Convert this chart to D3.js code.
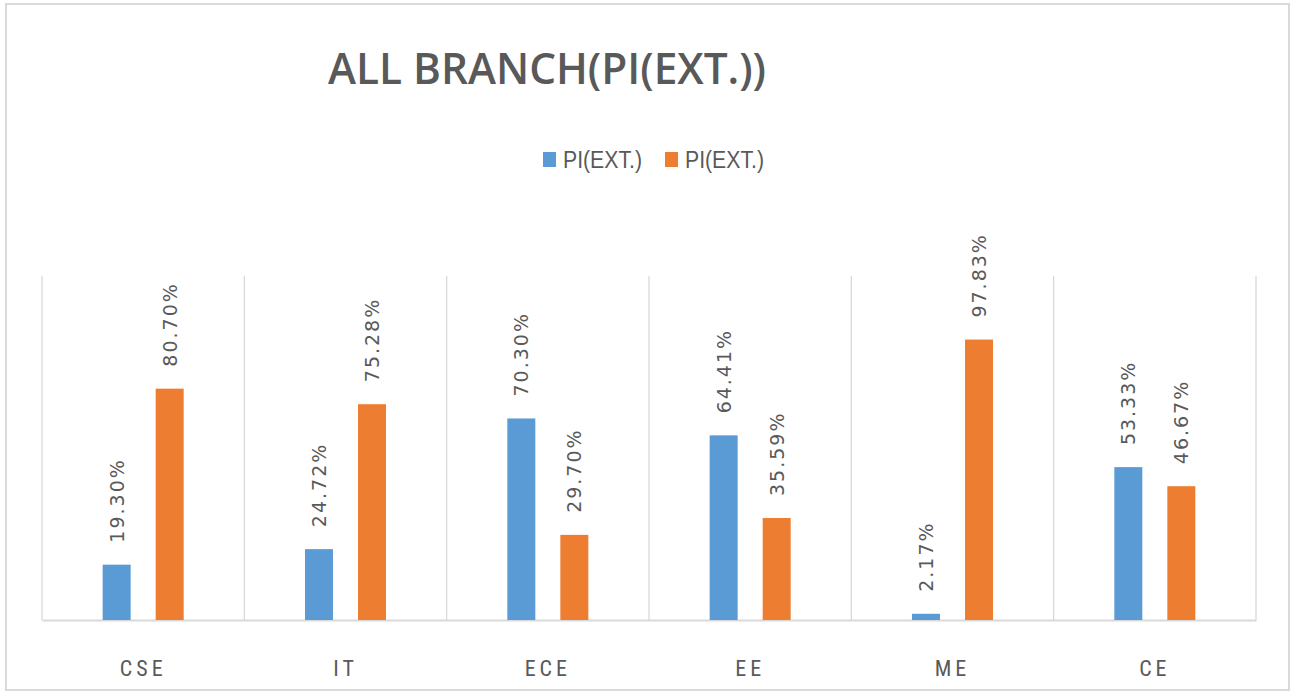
<!DOCTYPE html>
<html>
<head>
<meta charset="utf-8">
<script src="https://cdn.jsdelivr.net/npm/d3@7"></script>
<style>
  body { margin: 0; background: #fff; }
  text { fill: #595959; }
</style>
</head>
<body>
<div class="canva"></div>
<script>
// data
const categories = ['CSE', 'IT', 'ECE', 'EE', 'ME', 'CE'];
const seriesNames = ['PI(EXT.)', 'PI(EXT.)'];
const series1 = [19.30, 24.72, 70.30, 64.41, 2.17, 53.33];
const series2 = [80.70, 75.28, 29.70, 35.59, 97.83, 46.67];
const colors = ['#5b9bd5', '#ed7d31'];

const width = 1295, height = 693;

const svg = d3.select('.canva').append('svg')
    .attr('width', width)
    .attr('height', height)
    .style('display', 'block');

// outer chart border
svg.append('rect')
    .attr('x', 6).attr('y', 4)
    .attr('width', 1283).attr('height', 686)
    .attr('fill', '#fff')
    .attr('stroke', '#d9d9d9')
    .attr('stroke-width', 2);

const margin = { top: 276, left: 42, right: 39, bottom: 73 };
const graphWidth = width - margin.left - margin.right;
const graphHeight = height - margin.top - margin.bottom;

const graph = svg.append('g')
    .attr('transform', `translate(${margin.left}, ${margin.top})`);

const x0 = d3.scaleBand()
    .domain(categories)
    .range([0, graphWidth])
    .paddingInner(0)
    .paddingOuter(0);

const x1 = d3.scaleBand()
    .domain([0, 1])
    .range([0, x0.bandwidth()])
    .paddingInner(0.472)
    .paddingOuter(1.144);

const y = d3.scaleLinear()
    .domain([0, 120])
    .range([graphHeight, 0]);

// vertical category separators
graph.selectAll('line.sep')
    .data(d3.range(categories.length + 1))
    .enter().append('line')
    .attr('class', 'sep')
    .attr('x1', i => i * x0.step())
    .attr('x2', i => i * x0.step())
    .attr('y1', 0)
    .attr('y2', graphHeight)
    .attr('stroke', '#d9d9d9')
    .attr('stroke-width', 1.3);

// x axis (only the domain line + labels)
const xAxisGroup = graph.append('g')
    .attr('transform', `translate(0, ${graphHeight})`)
    .call(d3.axisBottom(x0).tickSize(0).tickPadding(40));

xAxisGroup.select('.domain')
    .attr('stroke', '#d9d9d9')
    .attr('stroke-width', 2);

xAxisGroup.selectAll('text')
    .style('font-family', '"Liberation Sans Narrow", "Roboto Condensed", "Liberation Sans", sans-serif')
    .style('font-size', '22px')
    .style('letter-spacing', '4px')
    .attr('fill', '#595959');

const rows = categories.map((c, i) => ({ cat: c, vals: [series1[i], series2[i]] }));

const groups = graph.selectAll('g.cat')
    .data(rows)
    .enter().append('g')
    .attr('class', 'cat')
    .attr('transform', d => `translate(${x0(d.cat)}, 0)`);

groups.selectAll('rect')
    .data(d => d.vals.map((v, k) => ({ v, k })))
    .enter().append('rect')
    .attr('x', d => x1(d.k))
    .attr('y', d => y(d.v))
    .attr('width', x1.bandwidth())
    .attr('height', d => graphHeight - y(d.v))
    .attr('fill', d => colors[d.k]);

// rotated value labels
groups.selectAll('text.val')
    .data(d => d.vals.map((v, k) => ({ v, k })))
    .enter().append('text')
    .attr('class', 'val')
    .attr('transform', d => `translate(${x1(d.k) + x1.bandwidth() / 2 + 7}, ${y(d.v) - 22}) rotate(-90)`)
    .style('font-family', '"DejaVu Sans", sans-serif')
    .style('font-size', '19px')
    .style('letter-spacing', '2px')
    .text(d => d.v.toFixed(2) + '%');

// title
svg.append('text')
    .attr('x', 328)
    .attr('y', 84)
    .attr('textLength', 438)
    .attr('lengthAdjust', 'spacingAndGlyphs')
    .style('font-family', '"Open Sans", sans-serif')
    .style('font-weight', 600)
    .style('font-size', '44px')
    .text('ALL BRANCH(PI(EXT.))');

// legend
const legendX = [543, 665];
const legend = svg.selectAll('g.legend')
    .data(seriesNames)
    .enter().append('g')
    .attr('class', 'legend')
    .attr('transform', (d, i) => `translate(${legendX[i]}, 152)`);

legend.append('rect')
    .attr('width', 13)
    .attr('height', 15)
    .attr('fill', (d, i) => colors[i]);

legend.append('text')
    .attr('x', 20)
    .attr('y', 16)
    .attr('textLength', 79)
    .attr('lengthAdjust', 'spacingAndGlyphs')
    .style('font-family', '"Liberation Sans Narrow", "Liberation Sans", sans-serif')
    .style('font-size', '23px')
    .text(d => d);
</script>
</body>
</html>
